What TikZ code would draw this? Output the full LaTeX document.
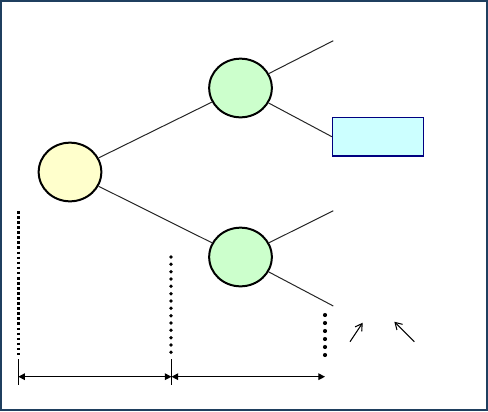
\documentclass[tikz,border=0pt]{standalone}
\usetikzlibrary{arrows.meta,positioning,shapes.geometric}
\definecolor{frameblue}{HTML}{1F3F5F}
\definecolor{rootfill}{HTML}{FFFFCC}
\definecolor{chancefill}{HTML}{CCFFCC}
\definecolor{leaffill}{HTML}{CCFFFF}
\definecolor{leafdraw}{HTML}{000080}

\begin{document}
\begin{tikzpicture}[
    x=0.75pt, y=-0.75pt,
    chance/.style={draw, ellipse, line width=1.5pt, inner sep=0pt, minimum width=47pt, minimum height=44pt},
    leafbox/.style={draw=leafdraw, line width=0.9pt, fill=leaffill, minimum width=68pt, minimum height=29pt, inner sep=0pt},
    branch/.style={line width=0.75pt, black!85},
    dimline/.style={{Triangle[length=5pt,width=5pt]}-{Triangle[length=5pt,width=5pt]}, line width=0.9pt},
    tick/.style={line width=0.7pt},
    pointer/.style={-{Straight Barb[length=5pt,width=6pt]}, line width=0.8pt}
]
\useasboundingbox (0,0) rectangle (488,411);
\draw[frameblue, line width=1.5pt] (1,1) rectangle (487,410);

% tree
\node[chance, fill=rootfill] (root) at (70,172) {};
\node[chance, fill=chancefill] (upper) at (240.5,88) {};
\node[chance, fill=chancefill] (lower) at (240.5,257) {};
\node[leafbox] (leaf) at (377.8,136.7) {};
\coordinate (upperEnd) at (333.3,40.7);
\coordinate (lowerTop) at (333.3,210.7);
\coordinate (lowerBot) at (333.3,306);
\draw[branch] (root) -- (upper);
\draw[branch] (root) -- (lower);
\draw[branch] (upper) -- (upperEnd);
\draw[branch] (upper) -- (leaf.west);
\draw[branch] (lower) -- (lowerTop);
\draw[branch] (lower) -- (lowerBot);

% time marks
\coordinate (markA) at (18.3,211);
\coordinate (markA') at (18.3,355);
\coordinate (markB) at (171,257);
\coordinate (markB') at (171,357);
\coordinate (markC) at (325,315);
\coordinate (markC') at (325,357);
\draw[line width=1.9pt, dash pattern=on 2pt off 1.8pt] (markA) -- (markA');
\draw[line width=2.8pt, line cap=round, dash pattern=on 0pt off 5.5pt] (markB) -- (markB');
\draw[line width=3.1pt, line cap=round, dash pattern=on 0pt off 6pt] (markC) -- (markC');

% spans
\coordinate (tickA) at (18.3,359);
\coordinate (tickA') at (18.3,385);
\coordinate (tickB) at (171.5,359);
\coordinate (tickB') at (171.5,385);
\draw[tick] (tickA) -- (tickA');
\draw[tick] (tickB) -- (tickB');
\coordinate (spanA) at (18.3,376.7);
\coordinate (spanB) at (171.5,376.7);
\coordinate (spanC) at (325,376.7);
\draw[dimline] (spanA) -- (spanB);
\draw[dimline] (spanB) -- (spanC);

% pointers
\coordinate (ptrA) at (350,341.7);
\coordinate (ptrA') at (362.7,322.7);
\coordinate (ptrB) at (414.3,341.7);
\coordinate (ptrB') at (394.3,321.7);
\draw[pointer] (ptrA) -- (ptrA');
\draw[pointer] (ptrB) -- (ptrB');
\end{tikzpicture}
\end{document}
